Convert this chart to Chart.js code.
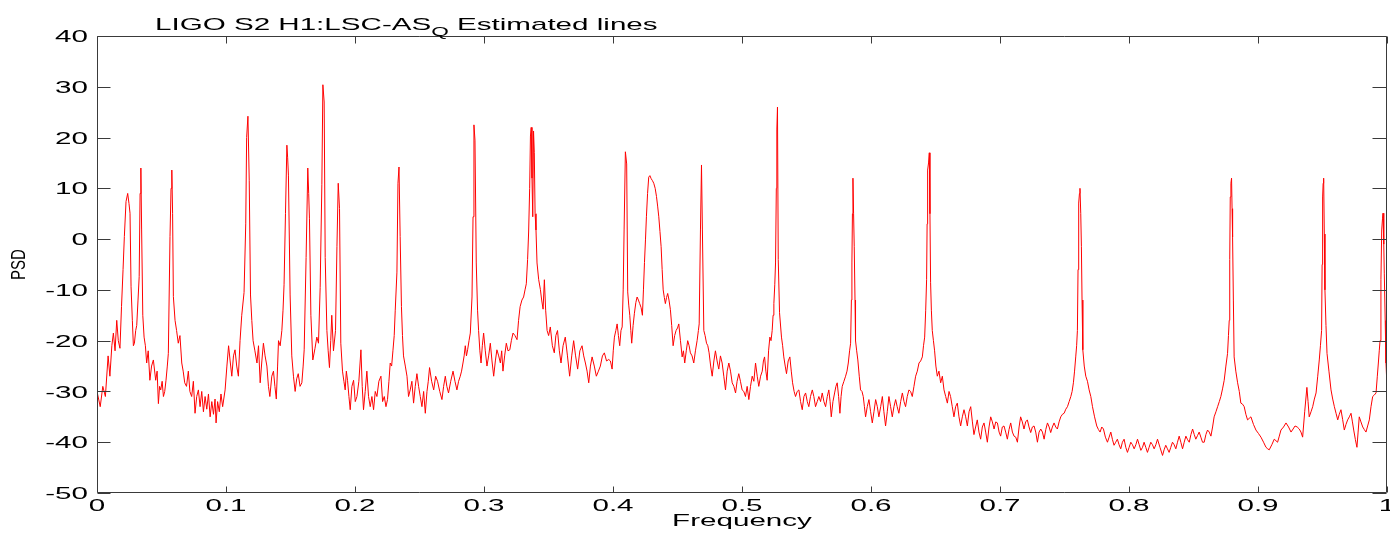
<!DOCTYPE html>
<html>
<head>
<meta charset="utf-8">
<title>LIGO S2 H1:LSC-AS_Q Estimated lines</title>
<script src="https://cdn.jsdelivr.net/npm/chart.js@4.4.1/dist/chart.umd.min.js"></script>
<style>
  html, body { margin: 0; padding: 0; background: #ffffff; }
  canvas { display: block; }
</style>
</head>
<body>
<canvas id="chart" width="1390" height="534"></canvas>
<script>
// ---------------- DATA ----------------
const titleMain = "LIGO S2 H1:LSC-AS";
const titleSub = "Q";
const titleTail = " Estimated lines";
const xAxisTitle = "Frequency";
const yAxisTitle = "PSD";

// tick settings
const xMin = 0, xMax = 1, xStep = 0.1;
const yMin = -50, yMax = 40, yStep = 10;

// Band 0.0 - 0.1
const freq0 = [0.0000,0.0025,0.0045,0.0065,0.0086,0.0100,0.0115,0.0127,0.0140,0.0153,
0.0165,0.0178,0.0190,0.0202,0.0212,0.0225,0.0238,0.0248,0.0256,0.0264,
0.0274,0.0282,0.0290,0.0300,0.0308,0.0318,0.0327,0.0334,0.0340,0.0346,
0.0355,0.0365,0.0375,0.0385,0.0397,0.0410,0.0423,0.0437,0.0455,0.0466,
0.0476,0.0485,0.0494,0.0505,0.0515,0.0525,0.0535,0.0545,0.0553,0.0566,
0.0574,0.0580,0.0586,0.0592,0.0605,0.0617,0.0630,0.0643,0.0657,0.0668,
0.0680,0.0694,0.0708,0.0720,0.0734,0.0747,0.0760,0.0773,0.0786,0.0799,
0.0812,0.0825,0.0838,0.0851,0.0864,0.0877,0.0890,0.0903,0.0915,0.0923,
0.0935,0.0948,0.0961,0.0974,0.0993];
const psd0 = [-30,-33,-29,-31,-23,-27,-21,-18.5,-22,-16,
-20,-21.5,-13.3,-6,0.5,7.4,9,7,5.1,-9.4,
-16,-21,-20.5,-18,-17,-12,-7.4,9,14,1.8,
-15,-19.3,-21,-24.4,-22,-27.8,-25,-23.8,-27.8,-26,
-32.4,-29,-29.7,-28,-31,-30,-27.8,-25,-22.5,0.5,
10,13.6,5,-11.3,-16,-18,-20.5,-19,-24.4,-26,
-28.3,-29,-26,-30,-31,-28,-34.3,-31,-29.7,-33,
-30,-34,-31,-33.5,-30.5,-35,-32,-34.5,-31.5,-36.2,
-32,-34,-30.5,-33,-29.7];

// Band 0.1 - 0.2
const freq1 = [0.1007,0.1020,0.1032,0.1045,0.1058,0.1070,0.1083,0.1096,0.1109,0.1122,
0.1140,0.1153,0.1160,0.1170,0.1180,0.1190,0.1200,0.1210,0.1224,0.1240,
0.1252,0.1265,0.1278,0.1290,0.1303,0.1317,0.1329,0.1340,0.1355,0.1368,
0.1379,0.1390,0.1400,0.1407,0.1420,0.1433,0.1442,0.1450,0.1461,0.1472,
0.1478,0.1484,0.1497,0.1510,0.1523,0.1536,0.1548,0.1560,0.1574,0.1588,
0.1598,0.1606,0.1621,0.1634,0.1641,0.1647,0.1658,0.1673,0.1690,0.1704,
0.1717,0.1730,0.1743,0.1751,0.1761,0.1769,0.1782,0.1792,0.1802,0.1812,
0.1820,0.1833,0.1849,0.1860,0.1870,0.1880,0.1890,0.1903,0.1914,0.1924,
0.1933,0.1942,0.1953,0.1963,0.1976,0.1989];
const psd1 = [-25,-21,-24,-27,-23,-21.8,-25,-27,-20,-15,
-10.5,3,20,24.2,11.6,-11,-16,-20,-22,-24.4,
-21,-28.3,-24,-20.5,-23,-25,-29,-31,-27,-26,
-29,-31.5,-25,-20,-21,-18,-14,-9,5,18.5,
16,12.6,-11,-23,-27,-30,-27.5,-26.5,-29,-28.3,
-25,-21.8,-3.6,14,9,4,-15,-23.8,-21.5,-19.3,
-20.5,-9.5,10.7,30.4,27,-3.6,-18,-22,-25.3,-20,
-15,-22,-18,-1.5,11,6,-20.5,-26,-28,-29.7,
-26,-27.8,-31,-33.6,-29,-27.8];

// Band 0.2 - 0.3
const freq2 = [0.2002,0.2015,0.2030,0.2046,0.2056,0.2066,0.2079,0.2092,0.2105,0.2118,
0.2131,0.2144,0.2157,0.2170,0.2185,0.2201,0.2214,0.2227,0.2240,0.2252,
0.2263,0.2273,0.2284,0.2294,0.2304,0.2312,0.2325,0.2333,0.2341,0.2350,
0.2360,0.2368,0.2376,0.2390,0.2403,0.2415,0.2428,0.2441,0.2454,0.2467,
0.2480,0.2493,0.2506,0.2519,0.2532,0.2545,0.2558,0.2568,0.2578,0.2594,
0.2610,0.2625,0.2640,0.2657,0.2674,0.2687,0.2700,0.2712,0.2725,0.2742,
0.2760,0.2775,0.2790,0.2803,0.2816,0.2826,0.2837,0.2846,0.2855,0.2864,
0.2873,0.2884,0.2894,0.2907,0.2915,0.2922,0.2930,0.2940,0.2950,0.2958,
0.2968,0.2977,0.2987,0.2997];
const psd2 = [-32,-31,-28,-21.8,-29,-33.6,-30,-26,-31,-33,
-31,-33.6,-30,-31,-28,-27,-32,-31,-33,-31.6,
-28,-24.4,-25,-22,-19,-14,-6.5,11,14.2,0.5,
-13.3,-19,-23,-25,-27,-31,-29.7,-28,-32.3,-29,
-26.5,-29,-31,-33,-30,-34.3,-30,-28,-25.3,-28,
-29.7,-27,-28,-30,-31.6,-29,-27,-29,-30.3,-28,
-26,-28,-29.7,-28,-27,-26,-24.4,-23,-21,-23,
-21.8,-20,-18.5,-11.4,4.4,22.5,19.5,-4.7,-14,-18,
-22,-24.4,-21,-18.5];

// Band 0.3 - 0.4
const freq3 = [0.3010,0.3023,0.3036,0.3049,0.3062,0.3075,0.3088,0.3100,0.3114,0.3127,
0.3137,0.3147,0.3160,0.3173,0.3186,0.3200,0.3212,0.3225,0.3240,0.3256,
0.3268,0.3280,0.3294,0.3307,0.3318,0.3328,0.3338,0.3346,0.3354,0.3360,
0.3366,0.3372,0.3378,0.3384,0.3390,0.3396,0.3403,0.3411,0.3424,0.3437,
0.3447,0.3458,0.3468,0.3478,0.3489,0.3501,0.3514,0.3530,0.3545,0.3557,
0.3570,0.3584,0.3597,0.3613,0.3630,0.3647,0.3664,0.3680,0.3695,0.3710,
0.3726,0.3743,0.3760,0.3773,0.3786,0.3799,0.3812,0.3825,0.3838,0.3855,
0.3871,0.3887,0.3902,0.3918,0.3933,0.3950,0.3967,0.3980,0.3993];
const psd3 = [-22,-25,-23,-20.5,-24,-27,-24,-21.8,-23,-24.4,
-22,-26,-23,-20.5,-22,-21.8,-20,-18.5,-19,-19.8,
-16,-13.3,-12,-11.4,-10,-8.8,-4,1.4,10,20.3,
22,12,4.4,21.3,17,5,1.8,-4.7,-8,-9.9,
-12,-13.8,-8,-14,-18,-19,-17.3,-21,-22.4,-19,
-18,-22,-24.4,-21,-19.3,-23,-27,-23,-20,-23,
-25.6,-22,-21,-23,-24.4,-26,-28.3,-25,-23.2,-25,
-27,-26,-25,-23,-22.4,-24,-23.7,-24,-25.6];

// Band 0.4 - 0.5
const freq4 = [0.4002,0.4011,0.4022,0.4032,0.4042,0.4052,0.4062,0.4071,0.4079,0.4086,
0.4096,0.4106,0.4114,0.4122,0.4130,0.4138,0.4145,0.4156,0.4166,0.4177,
0.4187,0.4197,0.4207,0.4218,0.4228,0.4236,0.4244,0.4252,0.4259,0.4268,
0.4277,0.4286,0.4296,0.4306,0.4316,0.4327,0.4337,0.4346,0.4355,0.4364,
0.4373,0.4381,0.4389,0.4398,0.4406,0.4415,0.4424,0.4434,0.4445,0.4455,
0.4466,0.4478,0.4489,0.4500,0.4510,0.4523,0.4536,0.4546,0.4556,0.4568,
0.4579,0.4590,0.4600,0.4613,0.4626,0.4639,0.4652,0.4662,0.4668,0.4678,
0.4686,0.4693,0.4704,0.4714,0.4725,0.4735,0.4745,0.4757,0.4769,0.4782,
0.4794,0.4807,0.4820,0.4833,0.4846,0.4859,0.4872,0.4885,0.4898,0.4911,
0.4924,0.4937,0.4950,0.4962,0.4975,0.4988];
const psd4 = [-22,-19.3,-18,-16.7,-19,-21,-18,-17.3,-10,1.8,
17.2,14.8,-10.4,-13,-15,-18,-20.5,-17,-14.6,-12.5,
-11.4,-12,-12.7,-13.5,-15,-10,-4.6,0,4.4,9,
12.2,12.5,11.9,11.5,11,10,8.4,6.5,4.4,1.5,
-1.5,-6,-10,-11.5,-12.7,-11.5,-10.7,-12,-13.9,-17,
-21,-19,-18,-17.5,-16.7,-20,-23.2,-22,-24.4,-22,
-20,-21,-22.4,-23,-24.4,-22,-20,-18,-16.7,1.8,
14.6,1.8,-18,-19,-20.5,-21,-22.4,-25,-27,-24,
-22,-24,-25.6,-23,-24.4,-27,-29.7,-26,-24.4,-26,
-28.3,-29,-30.3,-28,-26.5,-28];

// Band 0.5 - 0.6
const freq5 = [0.5001,0.5014,0.5027,0.5040,0.5053,0.5066,0.5079,0.5092,0.5105,0.5118,
0.5130,0.5144,0.5157,0.5166,0.5175,0.5185,0.5195,0.5206,0.5216,0.5225,
0.5234,0.5241,0.5247,0.5254,0.5260,0.5266,0.5270,0.5275,0.5281,0.5291,
0.5306,0.5315,0.5324,0.5335,0.5345,0.5358,0.5371,0.5382,0.5392,0.5404,
0.5415,0.5428,0.5441,0.5454,0.5467,0.5480,0.5493,0.5506,0.5518,0.5531,
0.5545,0.5557,0.5570,0.5583,0.5596,0.5609,0.5622,0.5635,0.5648,0.5661,
0.5673,0.5683,0.5692,0.5705,0.5718,0.5728,0.5738,0.5749,0.5759,0.5768,
0.5777,0.5790,0.5803,0.5814,0.5824,0.5834,0.5842,0.5848,0.5852,0.5856,
0.5860,0.5865,0.5870,0.5876,0.5880,0.5889,0.5898,0.5909,0.5919,0.5930,
0.5940,0.5949,0.5958,0.5971,0.5984,0.5997];
const psd5 = [-29.7,-30,-31,-29,-31.6,-29,-27,-28,-24.4,-27,
-29,-27,-26,-24,-23.2,-26,-27.8,-22,-19.3,-20,
-18,-15,-12.7,-9,-4.7,10,21.5,26,-4,-14.5,
-19.3,-21,-23.2,-25,-26.5,-24,-23.2,-26,-28.3,-30,
-31,-30,-29.7,-32,-33.6,-31,-30.3,-32,-33,-31,
-29.7,-31,-33,-32,-31,-32,-30.3,-32,-33,-31,
-29.7,-32,-35,-32,-30.3,-29,-28.3,-31,-34.3,-31,
-29,-28,-27,-26,-24.4,-22,-20.5,-12,-4.7,5,
12,5,-1.4,-12,-20,-22,-23.8,-27,-29.7,-30,
-31,-33,-35,-33,-31.6,-34];

// Band 0.6 - 0.7
const freq6 = [0.6010,0.6023,0.6036,0.6049,0.6061,0.6075,0.6088,0.6100,0.6113,0.6126,
0.6139,0.6152,0.6165,0.6178,0.6191,0.6203,0.6216,0.6230,0.6243,0.6256,
0.6268,0.6281,0.6294,0.6307,0.6320,0.6333,0.6346,0.6359,0.6372,0.6385,
0.6398,0.6407,0.6416,0.6424,0.6431,0.6435,0.6439,0.6446,0.6452,0.6457,
0.6462,0.6468,0.6475,0.6484,0.6493,0.6503,0.6514,0.6527,0.6540,0.6553,
0.6566,0.6579,0.6592,0.6605,0.6617,0.6630,0.6643,0.6656,0.6669,0.6682,
0.6695,0.6708,0.6721,0.6734,0.6747,0.6760,0.6773,0.6786,0.6798,0.6811,
0.6824,0.6837,0.6850,0.6863,0.6876,0.6889,0.6902,0.6915,0.6928,0.6941,
0.6954,0.6967,0.6980,0.6993];
const psd6 = [-36.2,-34,-31.6,-33,-35,-33,-31,-34,-36.8,-34,
-31,-33,-35,-33,-31.6,-33,-34.3,-32,-30.3,-32,
-33,-31,-29.7,-30,-31,-29,-27,-26,-24.4,-24,
-23.2,-21,-19.3,-14,-8,3,13.6,15,17,5,
-8.6,-14,-18,-20,-22,-25,-27,-26,-28.3,-27,
-29.7,-31,-32.3,-30,-31,-33,-35,-33,-32.3,-35,
-36.8,-35,-33.6,-35,-36.8,-34,-33,-36,-38.5,-37,
-35.6,-38,-39.4,-37,-36.2,-38,-40,-37,-35,-36,
-37.4,-36,-36.2,-38];

// Band 0.7 - 0.8
const freq7 = [0.7005,0.7018,0.7031,0.7044,0.7057,0.7070,0.7083,0.7096,0.7109,0.7122,
0.7135,0.7148,0.7160,0.7173,0.7186,0.7199,0.7212,0.7225,0.7238,0.7251,
0.7264,0.7277,0.7290,0.7303,0.7316,0.7329,0.7342,0.7355,0.7368,0.7381,
0.7393,0.7406,0.7419,0.7432,0.7445,0.7458,0.7471,0.7484,0.7497,0.7510,
0.7523,0.7536,0.7549,0.7559,0.7569,0.7578,0.7587,0.7594,0.7600,0.7605,
0.7610,0.7616,0.7620,0.7626,0.7631,0.7636,0.7642,0.7653,0.7665,0.7678,
0.7691,0.7704,0.7717,0.7733,0.7750,0.7763,0.7776,0.7789,0.7802,0.7817,
0.7833,0.7846,0.7859,0.7872,0.7884,0.7897,0.7910,0.7923,0.7936,0.7949,
0.7962,0.7975,0.7988];
const psd7 = [-38.8,-37,-36.8,-38,-39.4,-37.5,-36.2,-38,-38.8,-39,
-40,-37,-35,-36,-37.4,-36,-35.6,-37,-38.1,-37,
-36.8,-38,-40,-38,-37.4,-38,-39.4,-37.5,-36.2,-37,
-38.1,-37,-36.2,-37,-37.4,-36,-35,-34.5,-34.3,-33.5,
-33,-32,-31,-30,-28.3,-26,-23.2,-21,-18,-6,
7.1,9,10,5,-1.5,-12,-21.8,-25,-27,-28,
-29.7,-31,-33,-35,-36.8,-37.5,-38,-37,-37.4,-39,
-40,-39,-38,-39.5,-40.6,-40,-39.4,-40.5,-41.3,-40,
-39.4,-41,-42];

// Band 0.8 - 0.9
const freq8 = [0.8001,0.8014,0.8027,0.8040,0.8053,0.8066,0.8079,0.8092,0.8105,0.8117,
0.8130,0.8143,0.8156,0.8169,0.8182,0.8195,0.8208,0.8221,0.8240,0.8260,
0.8272,0.8285,0.8298,0.8311,0.8324,0.8337,0.8350,0.8363,0.8376,0.8389,
0.8402,0.8415,0.8428,0.8441,0.8454,0.8467,0.8480,0.8493,0.8506,0.8518,
0.8531,0.8544,0.8557,0.8570,0.8583,0.8596,0.8609,0.8622,0.8635,0.8648,
0.8660,0.8674,0.8687,0.8700,0.8712,0.8725,0.8738,0.8751,0.8764,0.8771,
0.8777,0.8781,0.8785,0.8790,0.8795,0.8799,0.8803,0.8809,0.8815,0.8828,
0.8842,0.8855,0.8867,0.8880,0.8893,0.8906,0.8919,0.8932,0.8945,0.8965,
0.8984];
const psd8 = [-41,-40,-40.5,-41.3,-40.5,-39.4,-40.5,-41.6,-41,-40,
-41,-42,-41,-40,-40.5,-41.3,-40.5,-39.4,-41,-42.6,
-41.5,-40.6,-41.3,-42,-41,-40,-40.5,-41.3,-40,-38.8,
-40,-41.3,-40,-38.8,-39.5,-40,-38.5,-37.4,-38.5,-39.4,
-38.7,-38,-39,-40,-40,-38.5,-37.6,-38,-38.8,-37,
-35,-34,-33,-32,-31,-29.5,-27.8,-25,-22.5,-19,
-16,-4,8.3,11,12,6,0.4,-12,-23.2,-26,
-28.3,-30,-32.3,-32.5,-33,-34.5,-35.6,-35.3,-35,-36.5,
-37.6];

// Band 0.9 - 1.0
const freq9 = [0.9004,0.9023,0.9043,0.9062,0.9075,0.9087,0.9107,0.9126,0.9139,0.9152,
0.9165,0.9178,0.9198,0.9217,0.9237,0.9256,0.9272,0.9287,0.9304,0.9320,
0.9333,0.9346,0.9362,0.9379,0.9388,0.9397,0.9411,0.9424,0.9437,0.9450,
0.9463,0.9475,0.9484,0.9493,0.9497,0.9501,0.9505,0.9509,0.9514,0.9519,
0.9527,0.9535,0.9550,0.9566,0.9579,0.9592,0.9605,0.9618,0.9630,0.9643,
0.9656,0.9669,0.9682,0.9695,0.9708,0.9721,0.9732,0.9742,0.9755,0.9767,
0.9776,0.9785,0.9798,0.9812,0.9824,0.9837,0.9850,0.9863,0.9876,0.9889,
0.9902,0.9915,0.9925,0.9933,0.9940,0.9946,0.9953,0.9959,0.9965,0.9969,
0.9975,0.9979,0.9986,0.9992,1.0000];
const psd9 = [-38.3,-39,-40,-41,-41.3,-41.5,-40.5,-39.4,-39.7,-40,
-38.8,-37.6,-37,-36.2,-37,-38,-37.4,-36.8,-37,-37.4,
-38,-39,-34,-29.2,-32,-35,-34,-33,-31.5,-30.3,
-27,-23.8,-21,-18,-5,8.3,11,12,1,-10,
-17,-22.5,-26,-29.7,-31.5,-33,-34.3,-35.6,-34.5,-33.6,
-35.5,-37.6,-36.5,-35.6,-35,-34.3,-36,-37.6,-39.5,-41,
-38,-35,-36,-37,-37.5,-38,-36.8,-35.6,-33,-31,
-30.7,-30.3,-27,-24.4,-22,-20,-8,1.8,4,5.1,
-1,-6.7,-16,-24.4,-29];

// ---------------- BUILD ----------------
const frequency = [].concat(freq0, freq1, freq2, freq3, freq4, freq5, freq6, freq7, freq8, freq9);
const psd = [].concat(psd0, psd1, psd2, psd3, psd4, psd5, psd6, psd7, psd8, psd9);
const points = frequency.map((f, i) => ({ x: f, y: psd[i] }));

// ---------------- STYLE ----------------
const FONT_FAMILY = '"Liberation Sans", Arial, Helvetica, sans-serif';
const TEXT_COLOR = '#000000';
const AXIS_COLOR = '#3a3a3a';
const STRETCH = 1.74;   // the reference's lettering is horizontally widened
const FS = 17;

function stretchedText(ctx, text, x, y, opts) {
  const sx = opts.sx || STRETCH;
  ctx.save();
  ctx.font = opts.font;
  ctx.fillStyle = opts.color || TEXT_COLOR;
  ctx.textBaseline = opts.baseline || 'alphabetic';
  ctx.textAlign = 'left';
  const w = ctx.measureText(text).width * sx;
  let x0 = x;
  if (opts.align === 'center') x0 = x - w / 2;
  else if (opts.align === 'right') x0 = x - w;
  ctx.translate(x0, y);
  ctx.scale(sx, 1);
  ctx.fillText(text, 0, 0);
  ctx.restore();
  return w;
}

function fmtTick(v) {
  return String(Number(v.toFixed(1)));
}

const matlabFrame = {
  id: 'matlabFrame',
  afterDatasetsDraw(chart) {
    const { ctx, chartArea: a, scales } = chart;
    const xs = scales.x, ys = scales.y;
    ctx.save();
    ctx.strokeStyle = AXIS_COLOR;
    ctx.lineWidth = 1;
    const L = Math.round(a.left) + 0.5, R = Math.round(a.right) - 0.5;
    const T = Math.round(a.top) + 0.5, B = Math.round(a.bottom) - 0.5;
    ctx.beginPath();
    ctx.rect(L, T, R - L, B - T);
    // y ticks (inward on left and right)
    ys.ticks.forEach(t => {
      const py = Math.round(ys.getPixelForValue(t.value)) + 0.5;
      ctx.moveTo(L, py); ctx.lineTo(L + 13, py);
      ctx.moveTo(R, py); ctx.lineTo(R - 14, py);
    });
    // x ticks (inward on bottom and top)
    xs.ticks.forEach(t => {
      const px = Math.round(xs.getPixelForValue(t.value)) + 0.5;
      ctx.moveTo(px, B); ctx.lineTo(px, B - 6);
      ctx.moveTo(px, T); ctx.lineTo(px, T + 7);
    });
    ctx.stroke();
    ctx.restore();
  },
  afterDraw(chart) {
    const { ctx, chartArea: a, scales } = chart;
    const xs = scales.x, ys = scales.y;
    const font = `${FS}px ${FONT_FAMILY}`;
    // y tick labels
    ys.ticks.forEach(t => {
      const py = ys.getPixelForValue(t.value);
      stretchedText(ctx, fmtTick(t.value), a.left - 9, py + 0.358 * FS, { font, align: 'right' });
    });
    // x tick labels
    xs.ticks.forEach(t => {
      const px = xs.getPixelForValue(t.value);
      stretchedText(ctx, fmtTick(t.value), px, a.bottom + 18, { font, align: 'center' });
    });
    // x axis title
    stretchedText(ctx, xAxisTitle, (a.left + a.right) / 2, 526, { font, align: 'center' });
    // y axis title (rotated)
    ctx.save();
    ctx.font = `15px ${FONT_FAMILY}`;
    ctx.fillStyle = TEXT_COLOR;
    ctx.textAlign = 'center';
    ctx.textBaseline = 'middle';
    ctx.translate(19, (a.top + a.bottom) / 2);
    ctx.scale(1.4, 1);
    ctx.rotate(-Math.PI / 2);
    ctx.fillText(yAxisTitle, 0, 0);
    ctx.restore();
    // title with subscript
    let tx = 155;
    tx += stretchedText(ctx, titleMain, tx, 30, { font });
    tx += stretchedText(ctx, titleSub, tx, 36, { font: `${Math.round(FS * 0.75)}px ${FONT_FAMILY}` });
    stretchedText(ctx, titleTail, tx, 30, { font });
  }
};

new Chart(document.getElementById('chart'), {
  type: 'line',
  data: {
    datasets: [{
      label: yAxisTitle,
      data: points,
      borderColor: '#ff0000',
      borderWidth: 1,
      pointRadius: 0,
      tension: 0,
      fill: false
    }]
  },
  options: {
    responsive: false,
    animation: false,
    devicePixelRatio: 1,
    parsing: false,
    normalized: true,
    layout: { padding: { top: 36, right: 3, left: 0, bottom: 0 } },
    plugins: {
      legend: { display: false },
      tooltip: { enabled: false },
      title: { display: false }
    },
    scales: {
      x: {
        type: 'linear',
        min: xMin, max: xMax,
        ticks: { stepSize: xStep, display: false },
        grid: { display: false },
        border: { display: false },
        afterFit: s => { s.height = 41; }
      },
      y: {
        type: 'linear',
        min: yMin, max: yMax,
        ticks: { stepSize: yStep, display: false },
        grid: { display: false },
        border: { display: false },
        afterFit: s => { s.width = 97; }
      }
    }
  },
  plugins: [matlabFrame]
});
</script>
</body>
</html>
